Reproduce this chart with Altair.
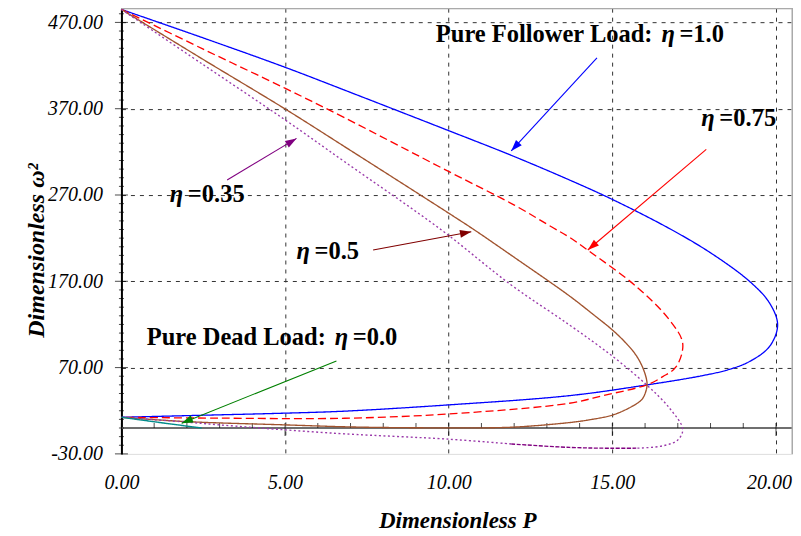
import math
import altair as alt
import pandas as pd

# ---------------- data ----------------
# eta = 1.0 (pure follower load), blue solid
blue_P = [0, 2.5, 5.0, 6.82, 10.01, 11.91, 13.69, 15.02, 16.75, 18.0, 19.19, 19.8, 20.05,
          19.8, 19.19, 18.58, 17.76, 16.05, 13.69, 10.01, 6.82, 5.01, 2.5, 0]
blue_W = [485, 452, 418, 391.5, 344.4, 316, 287.4, 264.5, 231, 203, 170, 145, 119.4,
          94.3, 77, 68, 60.7, 49.9, 37.5, 26.8, 19.5, 17.2, 14.8, 12.4]

# eta = 0.75, red dashed
red_P = [0, 2.5, 5.01, 6.82, 10.01, 12.02, 13.19, 13.69, 14.25, 15.73, 16.75, 17.15,
         16.95, 16.54, 16.05, 14.71, 13.69, 10.01, 6.82, 3.0, 0]
red_W = [485, 439, 393.5, 359.5, 297, 258, 232, 221, 206, 164, 125, 98,
         71, 59.5, 50, 37.5, 28.7, 16.3, 11.3, 11.4, 12.4]

# eta = 0.5, brown solid
brown_P = [0, 2.5, 5.01, 6.82, 10.01, 10.79, 12.02, 13.69, 14.4, 15.02, 15.45, 15.73, 15.95,
           16.06, 16.02, 15.9, 15.6, 15.02, 14.3, 13.69, 11.91, 10.01, 8.0, 6.82, 5.01, 1.99, 0]
brown_W = [485, 427, 369.5, 326, 248.7, 229.4, 197.3, 153, 132, 113, 97, 84, 68,
           52, 42, 33, 25, 15.2, 9.5, 6.3, 0.9, 0.2, 0.6, 1.4, 3.6, 7.4, 12.4]

# eta = 0.35, purple dotted
purple_P = [0, 2.5, 5.01, 6.82, 9.78, 11.91, 13.69, 15.02, 16.05, 16.75, 17.15, 17.0,
            16.54, 15.73, 15.0, 13.69, 11.91, 10.01, 6.82, 5.01, 3.0, 1.79, 0]
purple_W = [485, 421, 356.8, 308.5, 229.4, 165.7, 119.4, 82.7, 49.9, 22.9, -1.4, -13.8,
            -20.7, -23.4, -23.5, -22.5, -18.5, -13.0, -6.8, -2.2, 3.6, 7.4, 12.4]

# eta = 0.0 (pure dead load), teal solid
teal_P = [0, 1.2, 2.45]
teal_W = [12.4, 6.2, 0]

# axis tick values
x_major = [0, 5, 10, 15, 20]
x_minor = [v for v in range(0, 21) if v % 5 != 0]
y_major = [-30, 70, 170, 270, 370, 470]
y_minor = [v for v in range(-30, 490, 10) if (v + 30) % 100 != 0]

# annotations: label text pieces and anchor of the greek letter (data units)
lab_pre = ["Pure Follower Load:", "", "", "", "Pure Dead Load:"]
lab_suf = ["=1.0", "=0.75", "=0.35", "=0.5", "=0.0"]
lab_P = [16.50, 17.72, 1.48, 5.35, 6.52]
lab_W = [447.5, 350.2, 262.2, 195.5, 96.2]

# arrows: tail -> head (data units)
arr_P0 = [14.53, 17.87, 3.23, 7.69, 6.57]
arr_W0 = [428.9, 322.9, 287.3, 206.3, 77.7]
arr_P1 = [11.91, 14.25, 5.35, 10.69, 1.84]
arr_W1 = [321.0, 206.3, 335.6, 227.4, 5.6]
arr_col = ["#0000FF", "#FF0000", "#800080", "#800000", "#008000"]

# ---------------- layout ----------------
X_MIN, X_MAX = 0.0, 20.52
Y_MIN, Y_MAX = -30.0, 486.5
W_PX, H_PX = 672, 446
sx = W_PX / (X_MAX - X_MIN)
sy = H_PX / (Y_MAX - Y_MIN)

xs = alt.Scale(domain=[X_MIN, X_MAX], nice=False, zero=False)
ys = alt.Scale(domain=[Y_MIN, Y_MAX], nice=False, zero=False)

SERIF = "Liberation Serif"
GRID = "#333333"

X_AX = alt.Axis(
    values=x_major, format=".2f", labelFlush=False, labelOverlap=False,
    labelOffset={"condition": {"test": "datum.value == 20", "value": -7}, "value": 0},
    labelFont=SERIF, labelFontStyle="italic", labelFontSize=20, labelColor="black",
    labelPadding=19, ticks=False, tickSize=0, domain=False,
    grid=True, gridColor=GRID, gridDash=[4, 5], gridWidth=1,
    gridOpacity={"condition": {"test": "datum.value == 0", "value": 0}, "value": 1},
    title="Dimensionless P", titleFont=SERIF, titleFontStyle="italic",
    titleFontWeight="bold", titleFontSize=23, titleColor="black",
    titleBaseline="alphabetic", titleY=74)
Y_AX = alt.Axis(
    values=y_major, format=".2f", labelOverlap=False,
    labelExpr="replace(datum.label, '\u2212', '-')",
    labelFont=SERIF, labelFontStyle="italic", labelFontSize=20, labelColor="black",
    labelPadding=19, ticks=False, tickSize=0, domain=True, domainColor="black",
    domainWidth=2, grid=True, gridColor=GRID, gridDash=[4, 5], gridWidth=1,
    gridOpacity={"condition": {"test": "datum.value == -30", "value": 0}, "value": 1},
    title="Dimensionless ω²", titleFont=SERIF, titleFontStyle="italic",
    titleFontWeight="bold", titleFontSize=24, titleColor="black",
    titleAngle=270, titleAlign="center", titleBaseline="alphabetic",
    titleX=-78, titleY=242)


def X(field=None, datum=None):
    if datum is not None:
        return alt.X(datum=datum, scale=xs, axis=X_AX)
    return alt.X(field, type="quantitative", scale=xs, axis=X_AX)


def Y(field=None, datum=None):
    if datum is not None:
        return alt.Y(datum=datum, scale=ys, axis=Y_AX)
    return alt.Y(field, type="quantitative", scale=ys, axis=Y_AX)


# ---------------- curves table ----------------
rows = []


def add(name, Ps, Ws):
    for i, (p, w) in enumerate(zip(Ps, Ws)):
        rows.append({"series": name, "order": i, "P": p, "W": w})


add("eta1.0", blue_P, blue_W)
add("eta0.75", red_P, red_W)
add("eta0.5", brown_P, brown_W)
iA, iB = 13, 16
add("eta0.35a", purple_P[: iA + 1], purple_W[: iA + 1])
add("eta0.35b", purple_P[iA: iB + 1], purple_W[iA: iB + 1])
add("eta0.35c", purple_P[iB:], purple_W[iB:])
add("eta0.0", teal_P, teal_W)
curves = pd.DataFrame(rows)

names = ["eta1.0", "eta0.75", "eta0.5", "eta0.35a", "eta0.35b", "eta0.35c", "eta0.0"]
colors = ["#0000FF", "#FF0000", "#A0522D", "#9A3AAA", "#800080", "#9A3AAA", "#008B8B"]
dashes = [[1, 0], [8, 4], [1, 0], [2, 2.5], [4, 1.5], [2, 2.5], [1, 0]]
widths = [1.3, 1.4, 1.3, 1.6, 2.2, 1.6, 1.5]

# ---------------- frame, zero line, ticks ----------------
zero_line = alt.Chart(pd.DataFrame({"W": [0.0]})).mark_rule(color="#6f6f6f", strokeWidth=2).encode(
    y=Y("W"))
top_border = alt.Chart(pd.DataFrame({"W": [Y_MAX]})).mark_rule(color="#aaaaaa", strokeWidth=2).encode(
    y=Y("W"))
right_border = alt.Chart(pd.DataFrame({"P": [X_MAX]})).mark_rule(color="#aaaaaa", strokeWidth=3).encode(
    x=X("P"))

xt_minor = alt.Chart(pd.DataFrame({"P": x_minor})).mark_tick(
    orient="vertical", size=5, thickness=1, color="black", yOffset=-2.5).encode(
    x=X("P"), y=Y(datum=0))
xt_major = alt.Chart(pd.DataFrame({"P": x_major})).mark_tick(
    orient="vertical", size=13, thickness=1, color="black", yOffset=1.5).encode(
    x=X("P"), y=Y(datum=0))
yt_minor = alt.Chart(pd.DataFrame({"W": y_minor})).mark_tick(
    orient="horizontal", size=5, thickness=1, color="black").encode(
    y=Y("W"), x=X(datum=0))
yt_major = alt.Chart(pd.DataFrame({"W": y_major})).mark_tick(
    orient="horizontal", size=13, thickness=1, color="black").encode(
    y=Y("W"), x=X(datum=0))

lines = alt.Chart(curves).mark_line(interpolate="catmull-rom").encode(
    x=X("P"), y=Y("W"),
    color=alt.Color("series:N", scale=alt.Scale(domain=names, range=colors), legend=None),
    strokeDash=alt.StrokeDash("series:N", scale=alt.Scale(domain=names, range=dashes), legend=None),
    strokeWidth=alt.StrokeWidth("series:N", scale=alt.Scale(domain=names, range=widths), legend=None),
    order="order:Q",
)

# ---------------- arrows ----------------
angles = []
for p0, w0, p1, w1 in zip(arr_P0, arr_W0, arr_P1, arr_W1):
    dx = (p1 - p0) * sx
    dy = -(w1 - w0) * sy
    angles.append(math.degrees(math.atan2(dx, -dy)) % 360)
arrows = pd.DataFrame({"P0": arr_P0, "W0": arr_W0, "P1": arr_P1, "W1": arr_W1,
                       "col": arr_col, "ang": angles})

arrow_lines = alt.Chart(arrows).mark_rule(strokeWidth=1.1).encode(
    x=X("P0"), y=Y("W0"), x2="P1:Q", y2="W1:Q", color=alt.Color("col:N", scale=None))
arrow_heads = alt.Chart(arrows).mark_point(
    shape="M0,0L-0.55,1.6L0.55,1.6Z", filled=True, opacity=1, size=200, strokeWidth=0).encode(
    x=X("P1"), y=Y("W1"),
    color=alt.Color("col:N", scale=None), angle=alt.Angle("ang:Q", scale=None))

# ---------------- annotation texts ----------------
labels = pd.DataFrame({"pre": lab_pre, "suf": lab_suf, "P": lab_P, "W": lab_W})
txt_kw = dict(font=SERIF, fontSize=24.5, fontWeight="bold", color="black", baseline="alphabetic")
t_pre = alt.Chart(labels).mark_text(align="right", dx=-9, **txt_kw).encode(
    x=X("P"), y=Y("W"), text="pre:N")
t_eta = alt.Chart(labels).mark_text(align="left", fontStyle="italic", **txt_kw).encode(
    x=X("P"), y=Y("W"), text=alt.value("η"))
t_suf = alt.Chart(labels).mark_text(align="left", dx=18, **txt_kw).encode(
    x=X("P"), y=Y("W"), text="suf:N")

chart = alt.layer(
    zero_line, top_border, right_border,
    xt_minor, xt_major, yt_minor, yt_major,
    lines, arrow_lines, arrow_heads, t_pre, t_eta, t_suf,
).properties(
    width=W_PX, height=H_PX,
    autosize=alt.AutoSizeParams(type="none"),
    padding={"left": 113.5, "top": 0, "right": 0, "bottom": 80},
).configure_view(stroke=None).configure(background="white")

chart.save("out.html", embed_options={"renderer": "svg", "actions": False})
